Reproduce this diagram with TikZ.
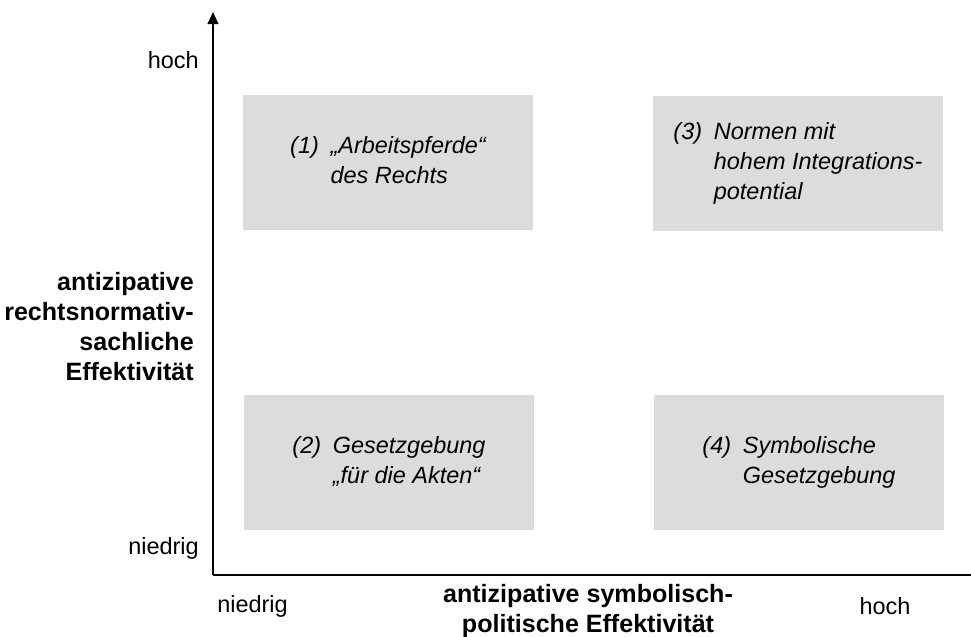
\documentclass[tikz,border=0pt]{standalone}
\usepackage{fontspec}
\setmainfont{Liberation Sans}
\usetikzlibrary{arrows.meta,positioning}

\definecolor{quadgray}{RGB}{220,220,220}
\newcommand{\diagfont}{\fontsize{17.6pt}{22.5pt}\selectfont}
\newcommand{\titlefont}{\fontsize{18.8pt}{22.5pt}\selectfont\bfseries}
\newcommand{\quadlabel}[2]{\begin{tabular}{@{}l@{\hspace{0.5em}}l@{}}#1 & #2\end{tabular}}

\tikzset{
  quadbox/.style={fill=quadgray, minimum width=217.5pt, minimum height=101.25pt,
    inner sep=0pt, font=\diagfont\itshape},
  axistitle/.style={font=\titlefont, inner sep=0pt},
  ticklabel/.style={font=\diagfont, inner sep=0pt},
  axisline/.style={line width=1.5pt, -{Triangle[length=9pt,width=8pt]}}
}

\begin{document}
\begin{tikzpicture}[x=0.75pt, y=-0.75pt]
    \useasboundingbox (0,0) rectangle (971,636);
    % Axes
    \coordinate (origin) at (213,575);
    \coordinate (ytip) at (213,12);
    \coordinate (xtip) at (983,575);
    \draw[axisline] (origin) -- (ytip);
    \draw[axisline] (origin) -- (xtip);
    % Four quadrants
    \node[quadbox] (q1) at (388,162.5) {\quadlabel{(1)}{„Arbeitspferde“\\ & des Rechts}};
    \node[quadbox] (q2) at (389,462.5) {\quadlabel{(2)}{Gesetzgebung\\ & „für die Akten“}};
    \node[quadbox] (q3) at (798,163) {\quadlabel{(3)}{Normen mit\\ & hohem Integrations-\\ & potential}};
    \node[quadbox] (q4) at (799,462) {\quadlabel{(4)}{Symbolische\\ & Gesetzgebung}};
    % Axis labels
    \node[ticklabel, anchor=east] (yhigh) at (199,60) {hoch};
    \node[ticklabel, anchor=east] (ylow) at (199,548) {niedrig};
    \node[axistitle, anchor=east, align=right] (ytitle) at (194,327)
        {antizipative\\ rechtsnormativ-\\ sachliche\\ Effektivität};
    \node[ticklabel, anchor=west] (xlow) at (217,606) {niedrig};
    \node[ticklabel] (xhigh) at (885,606) {hoch};
    \node[axistitle, align=center] (xtitle) at (588,611)
        {antizipative symbolisch-\\ politische Effektivität};
\end{tikzpicture}
\end{document}
